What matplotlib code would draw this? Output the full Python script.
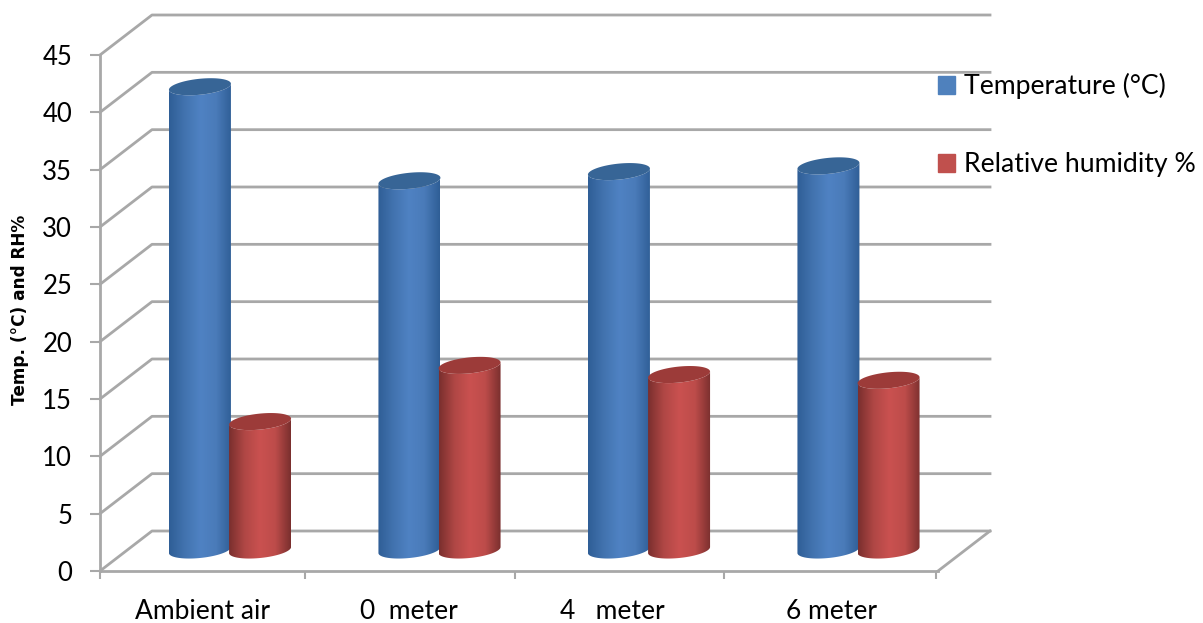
import numpy as np
import matplotlib
matplotlib.use("Agg")
import matplotlib.pyplot as plt
from matplotlib.colors import LinearSegmentedColormap
from matplotlib.patches import Patch, Polygon

categories = ["Ambient air", "0  meter", "4   meter", "6 meter"]
temperature = [40.4, 32.2, 33.0, 33.5]
humidity = [11.2, 16.1, 15.3, 14.8]
y_ticks = [0, 5, 10, 15, 20, 25, 30, 35, 40, 45]

GREY = "#a8a8a8"
W, H = 1203, 623
plt.rcParams["font.family"] = ["Lato", "DejaVu Sans"]

fig = plt.figure(figsize=(W / 100, H / 100), dpi=100)
ax = fig.add_axes([100 / W, 1 - 571 / H, 838 / W, 516 / H])

# pixel sizes turned into data units
px_x = 4 / 838
px_y = 45 / 516
depth_x = 52 * px_x
depth_y = 40 * px_y

# wall and floor
for v in y_ticks:
    ax.plot([0, depth_x, 4 + depth_x], [v, v + depth_y, v + depth_y],
            color=GREY, lw=2, clip_on=False, zorder=1)
ax.plot([4, 4 + depth_x], [0, depth_y], color=GREY, lw=2, clip_on=False, zorder=1)


def cylinder(x, value, colors, top_color):
    a = 31 * px_x
    b = 8 * px_y
    shear = 3 * px_y
    base = 21 * px_y
    t = np.linspace(0, 2 * np.pi, 120)
    ex = x + a * np.cos(t)
    ey = b * np.sin(t) + shear * np.cos(t)
    low = t >= np.pi
    body_x = np.r_[ex[low], ex[low][::-1]]
    body_y = np.r_[base + ey[low], (base + value + ey[low])[::-1]]
    cmap = LinearSegmentedColormap.from_list("c", colors)
    im = ax.imshow(np.linspace(0, 1, 128)[None, :], cmap=cmap, aspect="auto",
                   extent=[x - a, x + a, base - b - shear, base + value + b],
                   zorder=3, clip_on=True)
    body = Polygon(np.c_[body_x, body_y], closed=True, transform=ax.transData,
                   fc="none", ec="none")
    ax.add_patch(body)
    im.set_clip_path(body)
    ax.fill(ex, base + value + ey, color=top_color, lw=0, zorder=3.5)


blues = ["#2f5e96", "#4273af", "#4f82c3", "#4a7bb9", "#2f5e96"]
reds = ["#7a2f2e", "#b04745", "#ca5150", "#bd4c4a", "#7a2f2e"]
for i in range(len(categories)):
    cylinder(i + 0.477, temperature[i], blues, "#376596")
    cylinder(i + 0.764, humidity[i], reds, "#9c3b39")

ax.set_xlim(0, 4)
ax.set_ylim(0, 45)
ax.patch.set_alpha(0)
for s in ["top", "right"]:
    ax.spines[s].set_visible(False)
for s in ["left", "bottom"]:
    ax.spines[s].set_color(GREY)
    ax.spines[s].set_linewidth(2)

ax.set_yticks(y_ticks)
ax.tick_params(axis="y", color=GREY, width=1.5, length=7, pad=13, labelsize=18.5)
ax.set_xticks([0, 0.98, 1.98, 2.98, 3.99])
ax.set_xticklabels([])
ax.tick_params(axis="x", which="major", color=GREY, width=1.5, length=6)
ax.set_xticks([0.49, 1.475, 2.444, 3.49], labels=categories, minor=True)
ax.tick_params(axis="x", which="minor", length=0, pad=20.5, labelsize=19)

fig.text(20 / W, 1 - 310 / H, "Temp. (°C) and RH%", rotation=90, fontsize=12.2,
         fontweight="bold", ha="center", va="center", family=["DejaVu Sans"])

handles = [Patch(color="#4f81bd", label="Temperature (°C)"),
           Patch(color="#c0504d", label="Relative humidity %")]
fig.legend(handles=handles, loc="upper left", bbox_to_anchor=(938 / W, 1 - 73 / H),
           frameon=False, fontsize=19.2, handlelength=0.64, handleheight=0.64,
           handletextpad=0.32, labelspacing=2.0, borderaxespad=0, borderpad=0)

fig.savefig("out.png", dpi=100)
